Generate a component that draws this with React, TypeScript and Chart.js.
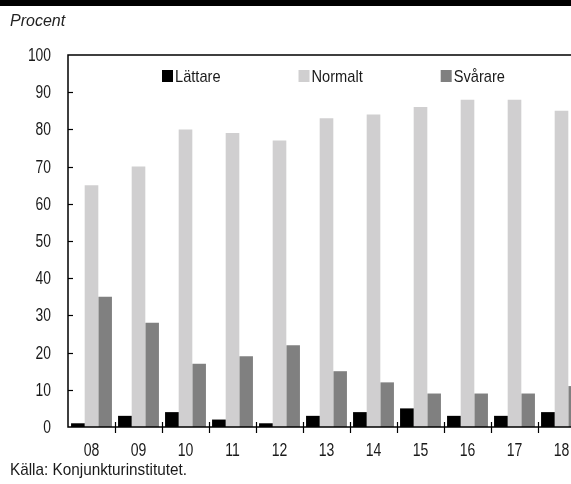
import { useEffect, useRef } from "react";
import { Chart, registerables } from "chart.js";

Chart.register(...registerables);

const years = ["08", "09", "10", "11", "12", "13", "14", "15", "16", "17", "18"];
const lattare = [1, 3, 4, 2, 1, 3, 4, 5, 3, 3, 4];
const normalt = [65, 70, 80, 79, 77, 83, 84, 86, 88, 88, 85];
const svarare = [35, 28, 17, 19, 22, 15, 12, 9, 9, 9, 11];
const seriesNames = ["Lättare", "Normalt", "Svårare"];
const seriesColors = ["#000000", "#d0cfd0", "#808080"];
const yTickValues = [0, 10, 20, 30, 40, 50, 60, 70, 80, 90, 100];

const SANS = "'Liberation Sans', Arial, sans-serif";

// Draws condensed text by squeezing the glyphs horizontally
function narrowText(ctx: any, text: string, x: number, y: number, align: "left" | "right" | "center", sx: number) {
  ctx.save();
  ctx.translate(x, y);
  ctx.scale(sx, 1);
  ctx.textAlign = align;
  ctx.fillText(text, 0, 0);
  ctx.restore();
}

// Frame, inward y ticks, category separators crossing the x axis, and axis labels
const framePlugin = {
  id: "frame",
  afterDraw(chart: any) {
    const { ctx, chartArea, scales } = chart;
    const { left, top, right, bottom } = chartArea;
    const x = scales.x;
    const y = scales.y;
    ctx.save();
    ctx.strokeStyle = "#000";
    ctx.lineWidth = 1.5;
    ctx.strokeRect(left, top, right - left, bottom - top);
    ctx.lineWidth = 1.2;
    for (let v = 10; v < 100; v += 10) {
      const py = Math.round(y.getPixelForValue(v)) + 0.5;
      ctx.beginPath();
      ctx.moveTo(left, py);
      ctx.lineTo(left + 5, py);
      ctx.stroke();
    }
    for (let i = 1; i < years.length; i++) {
      const px = Math.round((x.getPixelForValue(i - 1) + x.getPixelForValue(i)) / 2) + 0.5;
      ctx.beginPath();
      ctx.moveTo(px, bottom - 5);
      ctx.lineTo(px, bottom + 6);
      ctx.stroke();
    }

    ctx.fillStyle = "#1a1a1a";
    ctx.font = `18px ${SANS}`;
    ctx.textBaseline = "middle";
    yTickValues.forEach((v) => {
      narrowText(ctx, String(v), left - 17, y.getPixelForValue(v) + 1, "right", 0.77);
    });
    years.forEach((lab, i) => {
      narrowText(ctx, lab, x.getPixelForValue(i), bottom + 24, "center", 0.78);
    });
    ctx.restore();
  },
};

// Legend drawn inside the plot area
const legendPlugin = {
  id: "innerLegend",
  afterDraw(chart: any) {
    const { ctx, chartArea } = chart;
    const sx = 0.86;
    ctx.save();
    ctx.font = `17px ${SANS}`;
    ctx.textBaseline = "middle";
    let cx = chartArea.left + 94;
    const cy = chartArea.top + 21;
    chart.data.datasets.forEach((ds: any) => {
      ctx.fillStyle = ds.backgroundColor;
      ctx.fillRect(cx, cy - 6, 11, 12);
      ctx.fillStyle = "#1a1a1a";
      narrowText(ctx, ds.label, cx + 13, cy + 1, "left", sx);
      cx += 13 + ctx.measureText(ds.label).width * sx + 78;
    });
    ctx.restore();
  },
};

export default function App() {
  const ref = useRef<HTMLCanvasElement | null>(null);

  useEffect(() => {
    if (!ref.current) return;
    const chart = new Chart(ref.current, {
      type: "bar",
      data: {
        labels: years,
        datasets: [lattare, normalt, svarare].map((d, i) => ({
          label: seriesNames[i],
          data: d,
          backgroundColor: seriesColors[i],
          borderWidth: 0,
          categoryPercentage: 0.87,
          barPercentage: 1.0,
        })),
      },
      options: {
        responsive: false,
        animation: false,
        devicePixelRatio: 1,
        layout: { padding: { top: 55, right: 55, left: 0, bottom: 0 } },
        plugins: { legend: { display: false }, tooltip: { enabled: false }, title: { display: false } },
        scales: {
          x: {
            grid: { display: false },
            border: { display: false },
            ticks: { display: false },
            afterFit: (s: any) => { s.height = 57; },
          },
          y: {
            min: 0,
            max: 100,
            grid: { display: false },
            border: { display: false },
            ticks: { display: false, stepSize: 10 },
            afterFit: (s: any) => { s.width = 68; },
          },
        },
      },
      plugins: [framePlugin, legendPlugin],
    });
    return () => chart.destroy();
  }, []);

  return (
    <div style={{ position: "fixed", left: 0, top: 0, width: 571, height: 484, overflow: "hidden", background: "#fff" }}>
      <canvas ref={ref} width={640} height={484} style={{ position: "absolute", left: 0, top: 0 }} />
      <div style={{ position: "absolute", left: 0, top: 0, width: 571, height: 6, background: "#000" }} />
      <div style={{ position: "absolute", left: 10, top: 12, font: `italic 16px ${SANS}`, color: "#222", whiteSpace: "nowrap" }}>
        Procent
      </div>
      <div
        style={{
          position: "absolute",
          left: 10,
          top: 460,
          font: `17px ${SANS}`,
          color: "#1a1a1a",
          whiteSpace: "nowrap",
          transform: "scaleX(0.9)",
          transformOrigin: "left top",
        }}
      >
        Källa: Konjunkturinstitutet.
      </div>
    </div>
  );
}
